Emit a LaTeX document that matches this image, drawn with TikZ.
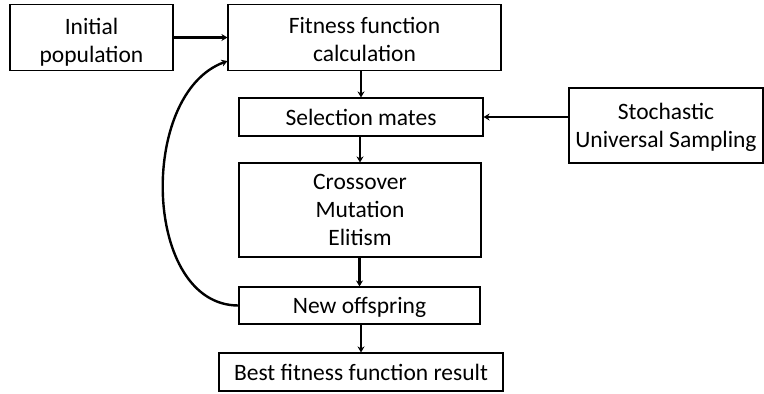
\documentclass[tikz,border=0pt]{standalone}
\usepackage{fontspec}
\setmainfont{Carlito}
\usetikzlibrary{arrows.meta, positioning}

\begin{document}
\begin{tikzpicture}[x=1pt, y=-1pt, every node/.style={font=\fontsize{23.5}{28}\selectfont}]
    \tikzstyle{box} = [rectangle, draw=black, line width=1.1pt, align=center, inner sep=0pt, text depth=0pt]
    \tikzstyle{flow} = [line width=2.4pt, -{Stealth[length=6pt, width=7pt]}]

    \useasboundingbox (0,0) rectangle (764,394);

    \node[box, minimum width=163, minimum height=66, text height=50pt] (init) at (91.5,37.5) {Initial\\population};
    \node[box, minimum width=273, minimum height=66, text height=48pt] (fitness) at (364.5,37.5) {Fitness function\\calculation};
    \node[box, minimum width=244, minimum height=38] (select) at (361,117) {Selection mates};
    \node[box, minimum width=242, minimum height=94] (ops) at (360,210) {Crossover\\Mutation\\Elitism};
    \node[box, minimum width=241, minimum height=37] (offspring) at (359.5,305.5) {New offspring};
    \node[box, minimum width=284, minimum height=38] (best) at (361,372) {Best fitness function result};
    \node[box, minimum width=194, minimum height=75] (sus) at (666,125.5) {Stochastic\\Universal Sampling};

    \draw[flow] (init) -- (fitness);
    \draw[flow] (fitness.south -| select.north) -- (select.north);
    \draw[flow] (sus.west |- select.east) -- (select.east);
    \draw[flow] (select.south -| ops.north) -- (ops.north);
    \draw[flow] (ops.south -| offspring.north) -- (offspring.north);
    \draw[flow] (offspring.south -| best.north) -- (best.north);
    \draw[flow] (offspring.west) to[out=180, in=200] ([yshift=10pt]fitness.south west);
\end{tikzpicture}
\end{document}
